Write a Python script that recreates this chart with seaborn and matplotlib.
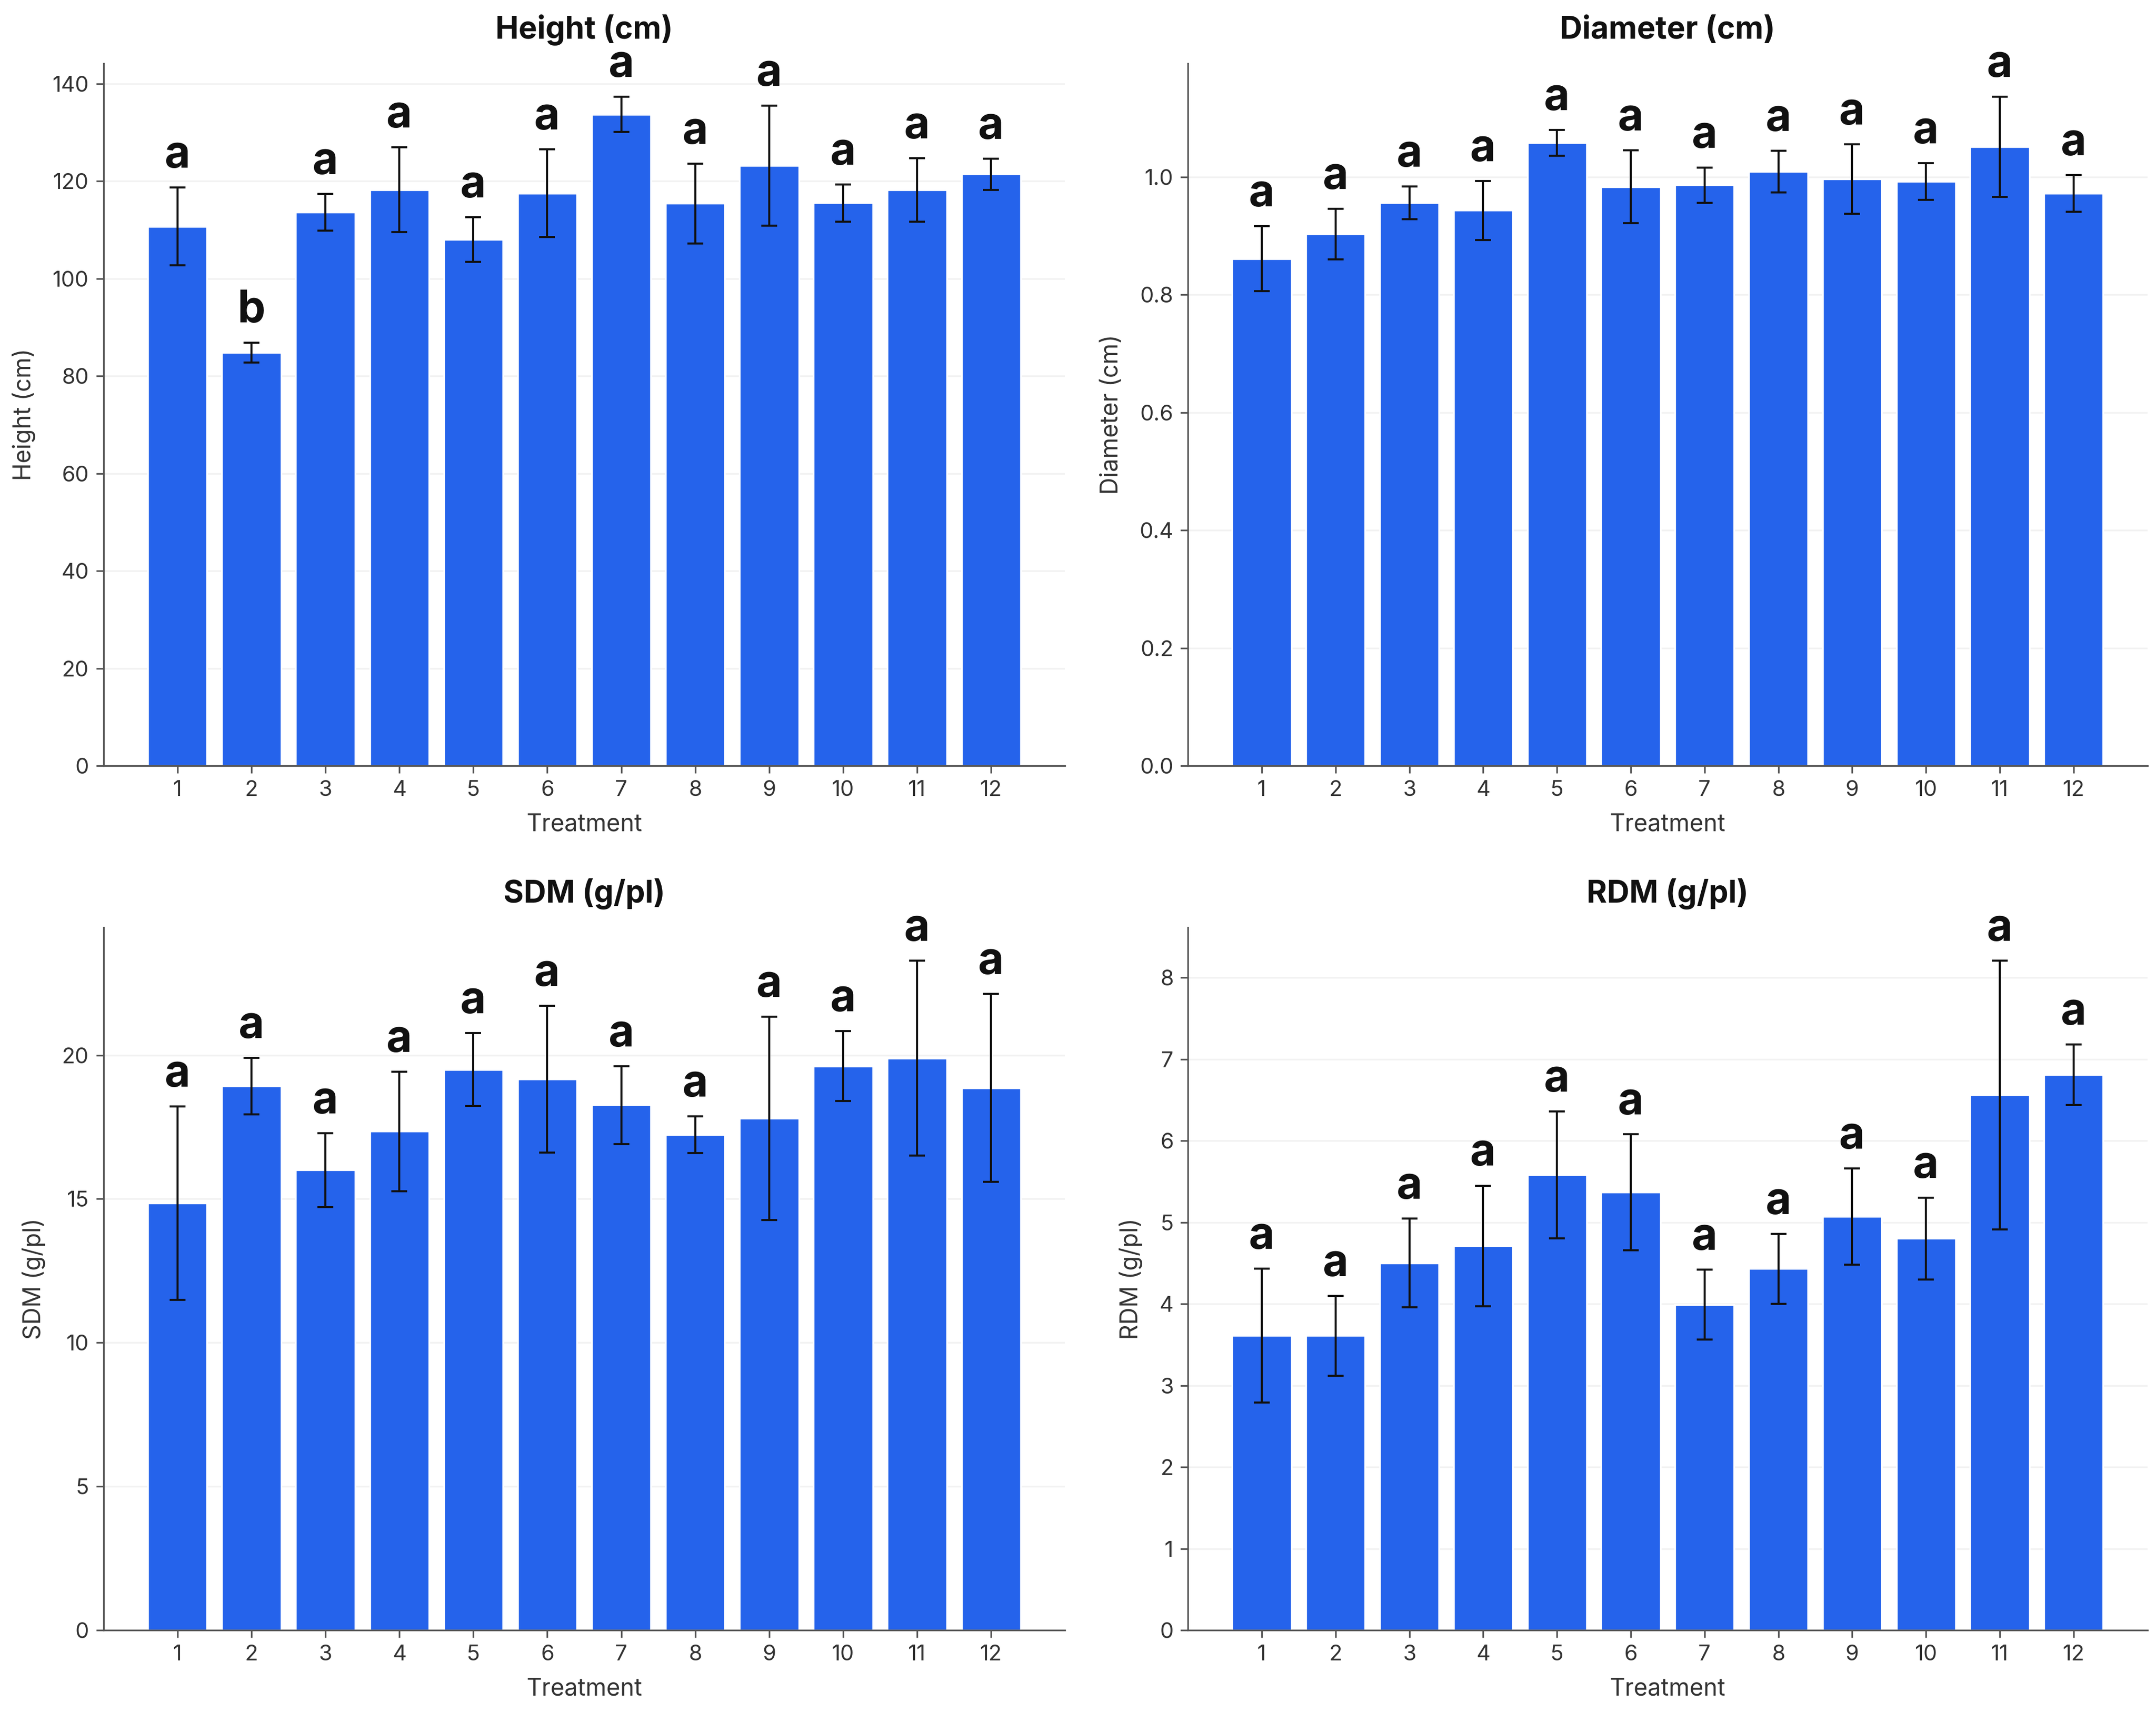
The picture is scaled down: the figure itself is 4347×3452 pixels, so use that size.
import matplotlib
matplotlib.use("Agg")
import matplotlib.pyplot as plt
import seaborn as sns
import pandas as pd
import numpy as np

treatments = [str(i) for i in range(1, 13)]

height_mean = [110.7, 84.8, 113.6, 118.2, 108.0, 117.5, 133.7, 115.4, 123.2, 115.5, 118.2, 121.4]
height_sd   = [8.0, 2.0, 3.8, 8.7, 4.6, 9.0, 3.6, 8.2, 12.3, 3.8, 6.5, 3.2]
height_letters = ["a", "b", "a", "a", "a", "a", "a", "a", "a", "a", "a", "a"]

diam_mean = [0.861, 0.903, 0.956, 0.943, 1.058, 0.983, 0.986, 1.009, 0.996, 0.992, 1.051, 0.972]
diam_sd   = [0.055, 0.043, 0.028, 0.050, 0.022, 0.062, 0.030, 0.035, 0.059, 0.031, 0.085, 0.031]
diam_letters = ["a"] * 12

sdm_mean = [14.85, 18.92, 16.00, 17.35, 19.50, 19.17, 18.26, 17.23, 17.80, 19.62, 19.89, 18.86]
sdm_sd   = [3.37, 0.98, 1.28, 2.08, 1.27, 2.55, 1.36, 0.64, 3.54, 1.21, 3.39, 3.27]
sdm_letters = ["a"] * 12

rdm_mean = [3.61, 3.61, 4.50, 4.71, 5.58, 5.37, 3.99, 4.43, 5.07, 4.80, 6.56, 6.81]
rdm_sd   = [0.82, 0.49, 0.545, 0.74, 0.78, 0.71, 0.43, 0.43, 0.59, 0.50, 1.645, 0.37]
rdm_letters = ["a"] * 12

panels = [
    ("Height (cm)", "Height (cm)", height_mean, height_sd, height_letters, [0, 20, 40, 60, 80, 100, 120, 140], "{:.0f}"),
    ("Diameter (cm)", "Diameter (cm)", diam_mean, diam_sd, diam_letters, [0.0, 0.2, 0.4, 0.6, 0.8, 1.0], "{:.1f}"),
    ("SDM (g/pl)", "SDM (g/pl)", sdm_mean, sdm_sd, sdm_letters, [0, 5, 10, 15, 20], "{:.0f}"),
    ("RDM (g/pl)", "RDM (g/pl)", rdm_mean, rdm_sd, rdm_letters, [0, 1, 2, 3, 4, 5, 6, 7, 8], "{:.0f}"),
]

sns.set_theme(style="white")
plt.rcParams["font.family"] = ["Inter", "DejaVu Sans"]

BAR = "#2563EB"
fig = plt.figure(figsize=(4347 / 300, 3452 / 300), dpi=300)

rects = [
    [0.048, 0.5527, 0.446, 0.4103],
    [0.551, 0.5527, 0.445, 0.4103],
    [0.048, 0.0478, 0.446, 0.4105],
    [0.551, 0.0478, 0.445, 0.4105],
]

for rect, (title, ylabel, means, sds, letters, yticks, fmt) in zip(rects, panels):
    ax = fig.add_axes(rect)
    df = pd.DataFrame({"Treatment": treatments, "value": means, "sd": sds})
    sns.barplot(data=df, x="Treatment", y="value", color=BAR, saturation=1,
                width=0.8, edgecolor="white", linewidth=0.8, ax=ax, zorder=2)
    pos = np.arange(len(treatments))
    ax.errorbar(pos, df["value"], yerr=df["sd"], fmt="none", ecolor="#111111",
                elinewidth=1.0, capsize=3.8, capthick=1.0, zorder=3)
    tops = df["value"] + df["sd"]
    ytop = tops.max() * 1.05
    ax.set_ylim(0, ytop)
    ax.set_xlim(-1, 12)
    off = ytop * 0.029
    for p, t, lab in zip(pos, tops, letters):
        ax.text(p, t + off, lab, ha="center", va="baseline", fontsize=21.5,
                fontweight="bold", color="#111111", zorder=4)
    ax.set_yticks(yticks)
    ax.set_yticklabels([fmt.format(v) for v in yticks])
    ax.yaxis.grid(True, color="#f2f2f2", linewidth=0.8, zorder=0)
    ax.set_axisbelow(True)
    ax.set_title(title, fontsize=15, fontweight="bold", color="#111111", pad=12)
    ax.set_xlabel("Treatment", fontsize=11.5, color="#333333", labelpad=6)
    ax.set_ylabel(ylabel, fontsize=11.5, color="#333333", labelpad=8)
    for s in ["top", "right"]:
        ax.spines[s].set_visible(False)
    for s in ["left", "bottom"]:
        ax.spines[s].set_color("#555555")
        ax.spines[s].set_linewidth(0.8)
    ax.tick_params(axis="both", which="major", length=3.5, width=0.8,
                   color="#555555", labelsize=10.5, labelcolor="#333333",
                   bottom=True, left=True)

fig.savefig("out.png", dpi=300, facecolor="white")
